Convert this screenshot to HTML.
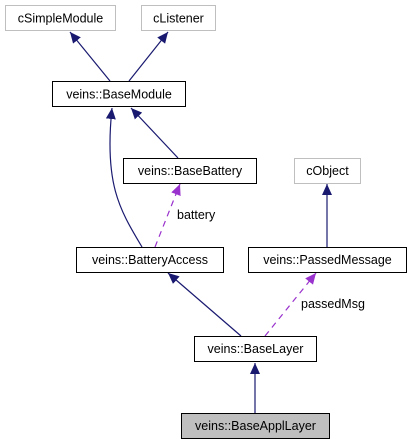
<!DOCTYPE html>
<html><head><meta charset="utf-8"><style>html,body{margin:0;padding:0;background:#fff;width:412px;height:444px;overflow:hidden}</style></head>
<body>
<svg width="412" height="444" viewBox="0 0 412 444" xmlns="http://www.w3.org/2000/svg" font-family="Liberation Sans, sans-serif" font-size="12.5">
<defs>
<marker id="a" markerUnits="userSpaceOnUse" markerWidth="12" markerHeight="12" viewBox="0 0 12 12" refX="11" refY="6" orient="auto"><path d="M0,1 L11,6 L0,11 Z" fill="#191970"/></marker>
<marker id="p" markerUnits="userSpaceOnUse" markerWidth="12" markerHeight="12" viewBox="0 0 12 12" refX="11" refY="6" orient="auto"><path d="M0,1 L11,6 L0,11 Z" fill="#9a32cd"/></marker>
</defs>
<g fill="none" stroke="#191970" stroke-width="1.2">
<path d="M110,81 L70,32" marker-end="url(#a)"/>
<path d="M129,81 L168,32" marker-end="url(#a)"/>
<path d="M142,247 C120,210 104,185 112,108" marker-end="url(#a)"/>
<path d="M178,158 L131,108" marker-end="url(#a)"/>
<path d="M327,247 L327,184" marker-end="url(#a)"/>
<path d="M241,336 L168,273" marker-end="url(#a)"/>
<path d="M255,413 L255,363" marker-end="url(#a)"/>
</g>
<g fill="none" stroke="#9a32cd" stroke-width="1.2" stroke-dasharray="6,5">
<path d="M155,247 L180,184" marker-end="url(#p)"/>
<path d="M265,336 L316,273" marker-end="url(#p)"/>
</g>
<g stroke-width="1">
<rect x="5.5" y="5.5" width="110" height="25" fill="#fff" stroke="#bfbfbf"/>
<rect x="141.5" y="5.5" width="74" height="25" fill="#fff" stroke="#bfbfbf"/>
<rect x="52.5" y="81.5" width="133" height="25" fill="#fff" stroke="#000"/>
<rect x="123.5" y="158.5" width="133" height="25" fill="#fff" stroke="#000"/>
<rect x="294.5" y="158.5" width="66" height="25" fill="#fff" stroke="#bfbfbf"/>
<rect x="76.5" y="247.5" width="147" height="25" fill="#fff" stroke="#000"/>
<rect x="248.5" y="247.5" width="158" height="25" fill="#fff" stroke="#000"/>
<rect x="194.5" y="336.5" width="122" height="25" fill="#fff" stroke="#000"/>
<rect x="181.5" y="413.5" width="148" height="25" fill="#bfbfbf" stroke="#000"/>
</g>
<g fill="#000" text-anchor="middle">
<text x="60.5" y="22.5">cSimpleModule</text>
<text x="178.5" y="22.5">cListener</text>
<text x="119" y="98.5">veins::BaseModule</text>
<text x="190" y="175">veins::BaseBattery</text>
<text x="327.5" y="175">cObject</text>
<text x="150" y="264">veins::BatteryAccess</text>
<text x="327.5" y="264">veins::PassedMessage</text>
<text x="255.5" y="353">veins::BaseLayer</text>
<text x="255.5" y="430">veins::BaseApplLayer</text>
</g>
<g fill="#000">
<text x="177" y="219">battery</text>
<text x="301" y="308">passedMsg</text>
</g>
</svg>
</body></html>
